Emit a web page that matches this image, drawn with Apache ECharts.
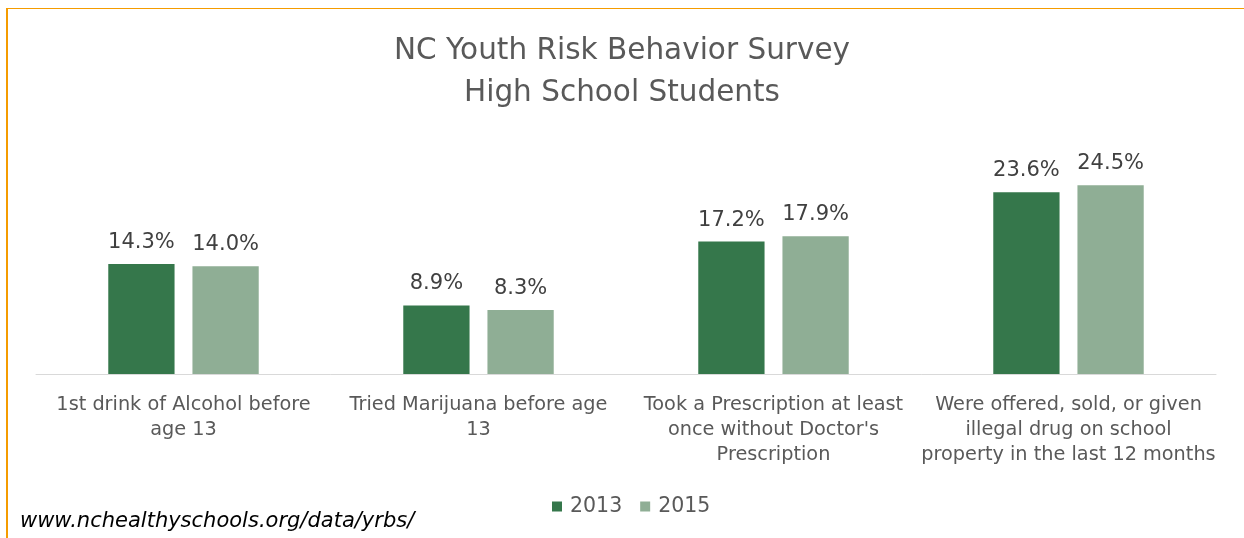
<!DOCTYPE html>
<html>
<head>
<meta charset="utf-8">
<script src="https://cdn.jsdelivr.net/npm/echarts@6/dist/echarts.min.js"></script>
<style>
  html, body { margin: 0; padding: 0; background: #fff; }
  #main { width: 1244px; height: 538px; }
</style>
</head>
<body>
<div id="main"></div>
<script>
var categories = [
  '1st drink of Alcohol before\nage 13',
  'Tried Marijuana before age\n13',
  'Took a Prescription at least\nonce without Doctor\'s\nPrescription',
  'Were offered, sold, or given\nillegal drug on school\nproperty in the last 12 months'
];
var vals2013 = [14.3, 8.9, 17.2, 23.6];
var vals2015 = [14.0, 8.3, 17.9, 24.5];

var fontFam = '"DejaVu Sans", sans-serif';

var chartDom = document.getElementById('main');
var myChart = echarts.init(chartDom, null, { renderer: 'canvas' });
var option;

var pctLabel = {
  show: true,
  position: 'top',
  distance: 11,
  color: '#404040',
  fontSize: 21,
  fontFamily: fontFam,
  formatter: function (p) { return p.value.toFixed(1) + '%'; }
};

option = {
  backgroundColor: '#fff',
  animation: false,
  title: {
    text: 'NC Youth Risk Behavior Survey\nHigh School Students',
    left: 'center',
    top: 25,
    textStyle: {
      color: '#595959',
      fontSize: 29.5,
      fontWeight: 'normal',
      fontFamily: fontFam,
      lineHeight: 42
    }
  },
  legend: {
    data: ['2013', '2015'],
    bottom: 16,
    left: 547,
    itemWidth: 10,
    itemHeight: 10,
    itemGap: 18,
    icon: 'rect',
    textStyle: { color: '#595959', fontSize: 20.5, fontFamily: fontFam, padding: [0, 0, 0, 3] }
  },
  grid: {
    left: 36,
    right: 28,
    top: 143,
    bottom: 164
  },
  xAxis: {
    type: 'category',
    data: categories,
    axisLine: { lineStyle: { color: '#d9d9d9', width: 1 } },
    axisTick: { show: false },
    axisLabel: {
      interval: 0,
      margin: 18,
      color: '#595959',
      fontSize: 19.3,
      fontFamily: fontFam,
      lineHeight: 25
    }
  },
  yAxis: {
    type: 'value',
    min: 0,
    max: 30,
    show: false,
    splitLine: { show: false }
  },
  graphic: [
    { type: 'rect', shape: { x: 6, y: 8, width: 1238, height: 1 }, style: { fill: '#f59c00' } },
    { type: 'rect', shape: { x: 6, y: 8, width: 2, height: 530 }, style: { fill: '#f59c00' } },
    {
      type: 'text', left: 20, top: 511,
      style: {
        text: 'www.nchealthyschools.org/data/yrbs/',
        fill: '#000',
        font: 'italic 21px ' + fontFam
      }
    }
  ],
  series: [
    {
      name: '2013',
      type: 'bar',
      data: vals2013,
      barGap: '27%',
      barCategoryGap: '49%',
      itemStyle: { color: '#35774b' },
      label: pctLabel
    },
    {
      name: '2015',
      type: 'bar',
      data: vals2015,
      itemStyle: { color: '#8fae95' },
      label: pctLabel
    }
  ]
};
myChart.setOption(option);
</script>
</body>
</html>
